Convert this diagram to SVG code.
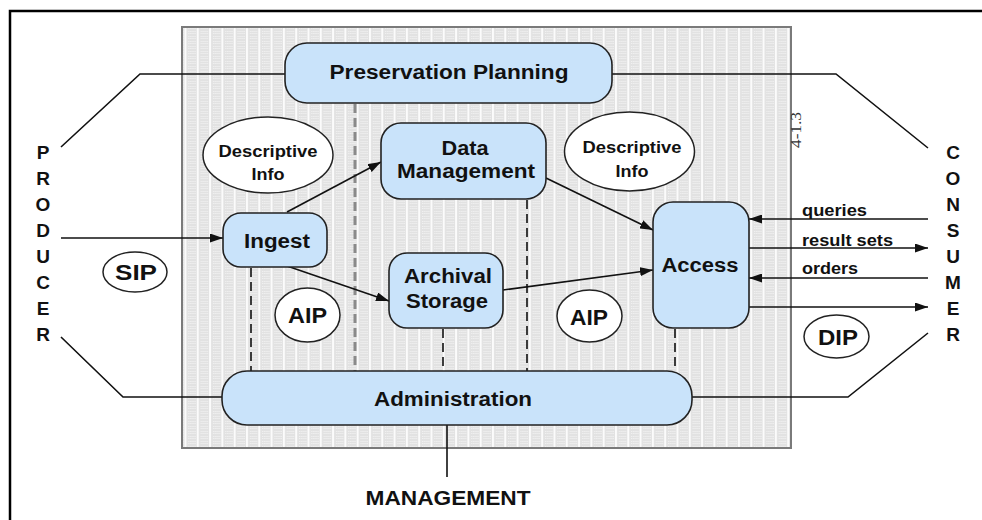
<svg xmlns="http://www.w3.org/2000/svg" width="982" height="520" viewBox="0 0 982 520">
  <defs>
    <!-- light gray panel texture: white vertical rules over fine dots -->
    <pattern id="grid" patternUnits="userSpaceOnUse" width="12.3" height="5">
      <rect width="12.3" height="5" fill="#e2e2e2"/>
      <rect x="0" y="0" width="2" height="5" fill="#fbfbfb"/>
      <rect x="4" y="1" width="1" height="1" fill="#f6f6f6"/>
      <rect x="6" y="1" width="1" height="1" fill="#f6f6f6"/>
      <rect x="8" y="1" width="1" height="1" fill="#f6f6f6"/>
      <rect x="10" y="1" width="1" height="1" fill="#f6f6f6"/>
      <rect x="4" y="3" width="1" height="1" fill="#f6f6f6"/>
      <rect x="6" y="3" width="1" height="1" fill="#f6f6f6"/>
      <rect x="8" y="3" width="1" height="1" fill="#f6f6f6"/>
      <rect x="10" y="3" width="1" height="1" fill="#f6f6f6"/>
    </pattern>
    <marker id="arrow" markerUnits="userSpaceOnUse" markerWidth="13" markerHeight="9" refX="13" refY="4.5" orient="auto">
      <path d="M0,0 L13,4.5 L0,9 z" fill="#111"/>
    </marker>
    <style>
      .frame { fill: none; stroke: #000; stroke-width: 2.5; }
      .panel { fill: url(#grid); stroke: #7a7a7a; stroke-width: 2; }
      .box { fill: #c9e3fa; stroke: #222; stroke-width: 1.6; }
      .oval { fill: #fff; stroke: #222; stroke-width: 1.5; }
      .lbl { font-family: "Liberation Sans", Arial, sans-serif; font-weight: bold; fill: #111; text-anchor: middle; }
      .node { font-size: 20px; }
      .info { font-size: 16px; }
      .pkg { font-size: 22px; }
      .flow { font-size: 16px; text-anchor: start; }
      .side { font-size: 19px; }
      .wire { fill: none; stroke: #111; stroke-width: 1.6; }
      .arr { fill: none; stroke: #111; stroke-width: 1.6; marker-end: url(#arrow); }
      .dash { fill: none; stroke: #111; stroke-width: 1.6; stroke-dasharray: 9 5; }
      .gdash { fill: none; stroke: #8a8a8a; stroke-width: 3; stroke-dasharray: 9 5; }
      .stamp { font-family: "Liberation Serif", "Times New Roman", serif; font-size: 15px; fill: #333; }
    </style>
  </defs>

  <rect width="982" height="520" fill="#fff"/>

  <!-- page frame: top and left rules only -->
  <path class="frame" d="M10,520 L10,11 L982,11"/>

  <!-- shaded OAIS panel -->
  <rect class="panel" x="182" y="27" width="609" height="421"/>
  <text class="stamp" transform="translate(801,148) rotate(-90)" textLength="36" lengthAdjust="spacingAndGlyphs">4-1.3</text>

  <!-- connectors -->
  <g id="connectors">
    <!-- functional boundaries -->
    <line class="gdash" x1="355" y1="104" x2="355" y2="371"/>
    <line class="dash" x1="251" y1="268" x2="251" y2="371"/>
    <line class="dash" x1="443" y1="329" x2="443" y2="371"/>
    <line class="dash" x1="527" y1="200" x2="527" y2="371"/>
    <line class="dash" x1="675" y1="329" x2="675" y2="371"/>

    <!-- external links -->
    <polyline class="wire" points="61,147 140,74 285,74"/>
    <polyline class="wire" points="612,74 836,74 928,148"/>
    <polyline class="wire" points="61,337 123,397 222,397"/>
    <polyline class="wire" points="692,397 848,397 928,333"/>
    <line class="wire" x1="447" y1="425" x2="447" y2="477"/>

    <!-- data flows -->
    <line class="arr" x1="61" y1="238" x2="223" y2="238"/>
    <line class="arr" x1="287" y1="212" x2="381" y2="162"/>
    <line class="arr" x1="287" y1="266" x2="389" y2="301"/>
    <line class="arr" x1="546" y1="178" x2="653" y2="230"/>
    <line class="arr" x1="503" y1="290" x2="653" y2="270"/>
    <line class="arr" x1="928" y1="219" x2="749" y2="219"/>
    <line class="arr" x1="749" y1="248" x2="928" y2="248"/>
    <line class="arr" x1="928" y1="278" x2="749" y2="278"/>
    <line class="arr" x1="749" y1="307" x2="928" y2="307"/>
  </g>

  <!-- functional entities -->
  <g id="preservation-planning">
    <rect class="box" x="285" y="43" width="327" height="60" rx="22"/>
    <text class="lbl node" x="449" y="79" textLength="239" lengthAdjust="spacingAndGlyphs">Preservation Planning</text>
  </g>

  <g id="data-management">
    <rect class="box" x="381" y="123" width="165" height="76" rx="20"/>
    <text class="lbl node" x="465" y="155" textLength="47" lengthAdjust="spacingAndGlyphs">Data</text>
    <text class="lbl node" x="466" y="178" textLength="138" lengthAdjust="spacingAndGlyphs">Management</text>
  </g>

  <g id="ingest">
    <rect class="box" x="223" y="213" width="104" height="54" rx="18"/>
    <text class="lbl node" x="277" y="248" textLength="66" lengthAdjust="spacingAndGlyphs">Ingest</text>
  </g>

  <g id="archival-storage">
    <rect class="box" x="389" y="253" width="114" height="75" rx="18"/>
    <text class="lbl node" x="448" y="283" textLength="88" lengthAdjust="spacingAndGlyphs">Archival</text>
    <text class="lbl node" x="447" y="308" textLength="82" lengthAdjust="spacingAndGlyphs">Storage</text>
  </g>

  <g id="access">
    <rect class="box" x="653" y="202" width="96" height="126" rx="20"/>
    <text class="lbl node" x="700" y="272" textLength="77" lengthAdjust="spacingAndGlyphs">Access</text>
  </g>

  <g id="administration">
    <rect class="box" x="222" y="371" width="470" height="54" rx="25"/>
    <text class="lbl node" x="453" y="406" textLength="158" lengthAdjust="spacingAndGlyphs">Administration</text>
  </g>

  <!-- information objects -->
  <g id="descriptive-info-left">
    <ellipse class="oval" cx="268" cy="155" rx="65" ry="38"/>
    <text class="lbl info" x="268" y="157" textLength="99" lengthAdjust="spacingAndGlyphs">Descriptive</text>
    <text class="lbl info" x="268" y="180" textLength="33" lengthAdjust="spacingAndGlyphs">Info</text>
  </g>

  <g id="descriptive-info-right">
    <ellipse class="oval" cx="629.5" cy="151.5" rx="65" ry="39.5"/>
    <text class="lbl info" x="632" y="153" textLength="99" lengthAdjust="spacingAndGlyphs">Descriptive</text>
    <text class="lbl info" x="632" y="177" textLength="33" lengthAdjust="spacingAndGlyphs">Info</text>
  </g>

  <g id="sip">
    <ellipse class="oval" cx="135" cy="272" rx="32" ry="20"/>
    <text class="lbl pkg" x="136" y="280" textLength="42" lengthAdjust="spacingAndGlyphs">SIP</text>
  </g>

  <g id="aip-left">
    <ellipse class="oval" cx="307.5" cy="315" rx="32.5" ry="27"/>
    <text class="lbl pkg" x="307.5" y="323" textLength="39" lengthAdjust="spacingAndGlyphs">AIP</text>
  </g>

  <g id="aip-right">
    <ellipse class="oval" cx="589.5" cy="316" rx="32.5" ry="26"/>
    <text class="lbl pkg" x="589" y="325" textLength="38" lengthAdjust="spacingAndGlyphs">AIP</text>
  </g>

  <g id="dip">
    <ellipse class="oval" cx="836.5" cy="336.5" rx="32.5" ry="21.5"/>
    <text class="lbl pkg" x="838" y="345" textLength="40" lengthAdjust="spacingAndGlyphs">DIP</text>
  </g>

  <!-- flow labels -->
  <g id="flow-labels">
    <text class="lbl flow" x="802" y="216" textLength="65" lengthAdjust="spacingAndGlyphs">queries</text>
    <text class="lbl flow" x="802" y="246" textLength="91" lengthAdjust="spacingAndGlyphs">result sets</text>
    <text class="lbl flow" x="802" y="274" textLength="56" lengthAdjust="spacingAndGlyphs">orders</text>
  </g>

  <!-- external parties -->
  <g id="producer">
    <text class="lbl side" x="43" y="159">P</text>
    <text class="lbl side" x="43" y="185">R</text>
    <text class="lbl side" x="43" y="211">O</text>
    <text class="lbl side" x="43" y="237">D</text>
    <text class="lbl side" x="43" y="263">U</text>
    <text class="lbl side" x="43" y="289">C</text>
    <text class="lbl side" x="43" y="315">E</text>
    <text class="lbl side" x="43" y="341">R</text>
  </g>

  <g id="consumer">
    <text class="lbl side" x="953" y="159">C</text>
    <text class="lbl side" x="953" y="185">O</text>
    <text class="lbl side" x="953" y="211">N</text>
    <text class="lbl side" x="953" y="237">S</text>
    <text class="lbl side" x="953" y="263">U</text>
    <text class="lbl side" x="953" y="289">M</text>
    <text class="lbl side" x="953" y="315">E</text>
    <text class="lbl side" x="953" y="341">R</text>
  </g>

  <g id="management">
    <text class="lbl node" x="448" y="505" textLength="165" lengthAdjust="spacingAndGlyphs">MANAGEMENT</text>
  </g>
</svg>
